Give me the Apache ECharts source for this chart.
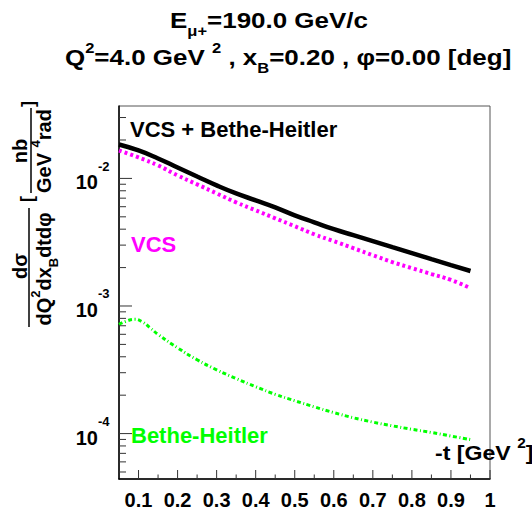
<!DOCTYPE html>
<html><head><meta charset="utf-8">
<script src="https://cdn.jsdelivr.net/npm/echarts@6/dist/echarts.min.js"></script>
<style>html,body{margin:0;padding:0;background:#fff}#c{width:532px;height:517px}</style>
</head><body><div id="c"></div>
<script>
// ---- data ----
const tGrid = [0.05,0.10,0.15,0.20,0.25,0.30,0.35,0.40,0.45,0.50,0.55,0.60,0.65,0.70,0.75,0.80,0.85,0.90,0.95];
const vcsPlusBH = [0.01843,0.01655,0.01433,0.01219,0.01036,0.00882,0.00763,0.00673,0.00593,0.00514,0.00453,0.00400,0.00359,0.00322,0.00289,0.00260,0.00233,0.00209,0.00188];
const vcsOnly = [0.01655,0.01459,0.01264,0.01055,0.00898,0.00763,0.00649,0.00562,0.00487,0.00422,0.00365,0.00322,0.00284,0.00250,0.00221,0.00198,0.00178,0.00160,0.00138];
const tBH = [0.05,0.07,0.09,0.11,0.13,0.15,0.20,0.25,0.30,0.35,0.40,0.45,0.50,0.55,0.60,0.65,0.70,0.75,0.80,0.85,0.90,0.95];
const bhOnly = [7.17e-4,7.63e-4,7.87e-4,7.50e-4,6.73e-4,5.99e-4,4.70e-4,3.79e-4,3.16e-4,2.70e-4,2.33e-4,2.03e-4,1.81e-4,1.62e-4,1.46e-4,1.33e-4,1.23e-4,1.15e-4,1.08e-4,1.02e-4,9.56e-5,8.98e-5];

// ---- axes / ticks ----
const X_MIN = 0.05, X_MAX = 1.0;
const Y_MIN = 4.406e-5, Y_MAX = 0.03694;
const xMajorTicks = [0.1,0.2,0.3,0.4,0.5,0.6,0.7,0.8,0.9,1.0];
const xTickLabels = ['0.1','0.2','0.3','0.4','0.5','0.6','0.7','0.8','0.9','1'];
const xMinorTicks = [0.15,0.25,0.35,0.45,0.55,0.65,0.75,0.85,0.95];
const yMajorTicks = [1e-4,1e-3,1e-2];
const yTickExponents = ['-4','-3','-2'];
const yMinorTicks = [5e-5,6e-5,7e-5,8e-5,9e-5,2e-4,3e-4,4e-4,5e-4,6e-4,7e-4,8e-4,9e-4,2e-3,3e-3,4e-3,5e-3,6e-3,7e-3,8e-3,9e-3,2e-2,3e-2];

const FF = '"Liberation Sans", Arial, Helvetica, sans-serif';
const F = (s) => 'bold ' + s + 'px ' + FF;

const chart = echarts.init(document.getElementById('c'), null, {renderer: 'svg'});

const xTickData = xMajorTicks.map(v => [v, Y_MIN, 1]).concat(xMinorTicks.map(v => [v, Y_MIN, 0]));
const yTickData = yMajorTicks.map(v => [X_MIN, v, 1]).concat(yMinorTicks.map(v => [X_MIN, v, 0]));

function xTickItem(params, api) {
  const p = api.coord([api.value(0), api.value(1)]);
  const major = api.value(2) === 1;
  const len = major ? 9 : 4.5;
  const ch = [{type: 'line', shape: {x1: p[0], y1: p[1], x2: p[0], y2: p[1] - len}, style: {stroke: '#333', lineWidth: 1}}];
  if (major) {
    ch.push({type: 'text', x: p[0], y: p[1] + 21, style: {text: xTickLabels[params.dataIndex], font: F(20), fill: '#000', align: 'center', verticalAlign: 'middle'}});
  }
  return {type: 'group', children: ch};
}
function yTickItem(params, api) {
  const p = api.coord([api.value(0), api.value(1)]);
  const major = api.value(2) === 1;
  const len = major ? 13 : 7;
  const ch = [{type: 'line', shape: {x1: p[0], y1: p[1], x2: p[0] + len, y2: p[1]}, style: {stroke: '#333', lineWidth: 1}}];
  if (major) {
    ch.push({type: 'text', x: p[0] - 21, y: p[1] + 4, style: {text: '10', font: F(20), fill: '#000', align: 'right', verticalAlign: 'middle'}});
    ch.push({type: 'text', x: p[0] - 21, y: p[1] - 12, style: {text: yTickExponents[params.dataIndex], font: F(13), fill: '#000', align: 'left', verticalAlign: 'middle'}});
  }
  return {type: 'group', children: ch};
}

const base = {fontWeight: 'bold', fontFamily: FF, fill: '#000'};
const tMain = Object.assign({}, base, {fontSize: 22, lineHeight: 34, verticalAlign: 'middle'});
const tSup = Object.assign({}, base, {fontSize: 14, lineHeight: 10, verticalAlign: 'top'});
const tSubMu = Object.assign({}, base, {fontSize: 14, lineHeight: 10, verticalAlign: 'bottom'});
const tSubB = Object.assign({}, base, {fontSize: 14, lineHeight: 14, verticalAlign: 'bottom'});

const ymain = Object.assign({}, base, {fontSize: 20, lineHeight: 31, verticalAlign: 'middle'});
const ysup = Object.assign({}, base, {fontSize: 13, lineHeight: 12, verticalAlign: 'top'});
const ysub = Object.assign({}, base, {fontSize: 13, lineHeight: 14, verticalAlign: 'bottom'});

const R = Math.PI / 2;

chart.setOption({
  animation: false,
  backgroundColor: '#fff',
  grid: {left: 119, right: 42, top: 106, bottom: 38, show: true, borderColor: '#555', borderWidth: 1, backgroundColor: 'transparent'},
  xAxis: {type: 'value', min: X_MIN, max: X_MAX, axisLine: {show: true, lineStyle: {color: '#000', width: 1.5}}, axisTick: {show: false}, axisLabel: {show: false}, splitLine: {show: false}},
  yAxis: {type: 'log', logBase: 10, min: Y_MIN, max: Y_MAX, axisLine: {show: true, lineStyle: {color: '#000', width: 1.5}}, axisTick: {show: false}, axisLabel: {show: false}, splitLine: {show: false}, minorSplitLine: {show: false}},
  series: [
    {type: 'line', name: 'VCS + Bethe-Heitler', data: tGrid.map((t, i) => [t, vcsPlusBH[i]]), showSymbol: false, smooth: true, lineStyle: {color: '#000', width: 4.5, type: 'solid'}, z: 5},
    {type: 'line', name: 'VCS', data: tGrid.map((t, i) => [t, vcsOnly[i]]), showSymbol: false, smooth: true, lineStyle: {color: '#ff00ff', width: 4, type: [3, 3], cap: 'butt'}, z: 4},
    {type: 'line', name: 'Bethe-Heitler', data: tBH.map((t, i) => [t, bhOnly[i]]), showSymbol: false, smooth: true, lineStyle: {color: '#00ff00', width: 3, type: [4, 2.5, 1, 2.5], cap: 'butt'}, z: 4},
    {type: 'custom', name: 'xticks', data: xTickData, renderItem: xTickItem, clip: false, silent: true, z: 6},
    {type: 'custom', name: 'yticks', data: yTickData, renderItem: yTickItem, clip: false, silent: true, z: 6}
  ],
  graphic: [
    // title
    {type: 'text', x: 170, y: 20.5, scaleX: 1.18, style: {text: '{m|E}{s|μ+}{m|=190.0 GeV/c}', align: 'left', verticalAlign: 'middle', rich: {m: tMain, s: tSubMu}}},
    {type: 'text', x: 65, y: 57.5, scaleX: 1.18, style: {text: '{m|Q}{p|2}{m|=4.0 GeV }{p|2}{m| , x}{s|B}{m|=0.20 , φ=0.00 [deg]}', align: 'left', verticalAlign: 'middle', rich: {m: tMain, p: tSup, s: tSubB}}},
    // in-plot labels
    {type: 'text', x: 130, y: 129, style: {text: 'VCS + Bethe-Heitler', font: F(22), fill: '#000', align: 'left', verticalAlign: 'middle'}},
    {type: 'text', x: 131, y: 244, style: {text: 'VCS', font: F(22), fill: '#ff00ff', align: 'left', verticalAlign: 'middle'}},
    {type: 'text', x: 131, y: 435, style: {text: 'Bethe-Heitler', font: F(22), fill: '#00ff00', align: 'left', verticalAlign: 'middle'}},
    {type: 'text', x: 435, y: 453, scaleX: 1.1, style: {text: '{m|-t [GeV }{p|2}{m|]}', align: 'left', verticalAlign: 'middle', rich: {m: Object.assign({}, tMain, {fontSize: 21, lineHeight: 34}), p: tSup}}},
    // y title (rotated)
    {type: 'text', x: 20, y: 266, rotation: R, style: {text: 'dσ', font: F(20), fill: '#000', align: 'center', verticalAlign: 'middle'}},
    {type: 'line', shape: {x1: 29, y1: 208, x2: 29, y2: 327}, style: {stroke: '#000', lineWidth: 1.5}},
    {type: 'text', x: 44, y: 269, rotation: R, style: {text: '{m|dQ}{p|2}{m|dx}{s|B}{m|dtdφ}', align: 'center', verticalAlign: 'middle', rich: {m: ymain, p: ysup, s: ysub}}},
    {type: 'text', x: 27, y: 199, rotation: R, style: {text: '[', font: F(18), fill: '#000', align: 'center', verticalAlign: 'middle'}},
    {type: 'text', x: 20, y: 151, rotation: R, style: {text: 'nb', font: F(20), fill: '#000', align: 'center', verticalAlign: 'middle'}},
    {type: 'line', shape: {x1: 31, y1: 108, x2: 31, y2: 193}, style: {stroke: '#000', lineWidth: 1.5}},
    {type: 'text', x: 44, y: 151, rotation: R, style: {text: '{m|GeV }{p|4}{m|rad}', align: 'center', verticalAlign: 'middle', rich: {m: ymain, p: ysup}}},
    {type: 'text', x: 28, y: 104, rotation: R, style: {text: ']', font: F(18), fill: '#000', align: 'center', verticalAlign: 'middle'}}
  ]
});
</script>
</body></html>
